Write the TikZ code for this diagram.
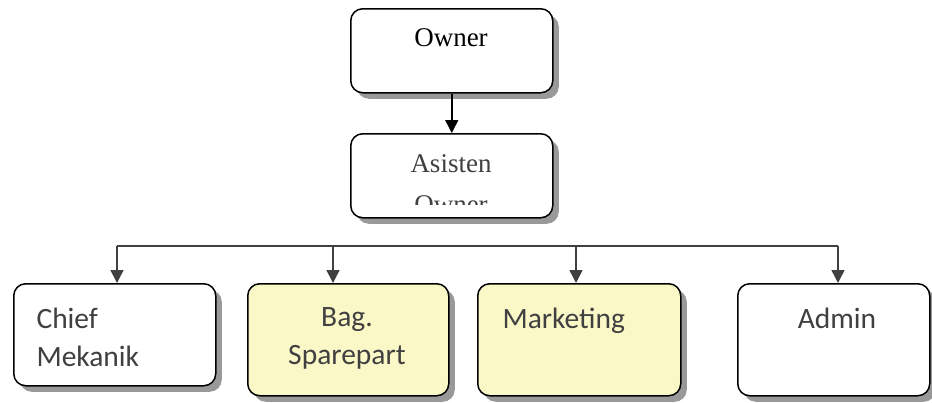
\documentclass[tikz,border=0pt]{standalone}
\usepackage{fontspec}
\setmainfont{Liberation Serif}
\newfontfamily\calfont{Carlito}
\usetikzlibrary{shadows,arrows.meta}
\definecolor{txtgrey}{HTML}{404040}
\definecolor{lineg}{HTML}{404040}
\definecolor{paleyel}{HTML}{FBF8C8}
\tikzset{
  orgbox/.style={draw=black, line width=1.5pt, rounded corners=12pt, fill=white,
    minimum width=#1, inner sep=0pt, anchor=north west,
    drop shadow={shadow xshift=6pt, shadow yshift=-6pt, fill=gray!80, opacity=1}},
  orgbox/.default=202pt,
  conn/.style={draw=lineg, line width=1.5pt, -{Triangle[length=13pt,width=13pt]}},
  lowtxt/.style={font=\calfont\fontsize{29.5}{38}\selectfont, text=txtgrey},
}
\begin{document}
\begin{tikzpicture}[x=1pt,y=-1pt]
\useasboundingbox (0,0) rectangle (932,402);
% top boxes
\node[orgbox, minimum height=84pt] (owner) at (350,8) {};
\node[font=\fontsize{27}{30}\selectfont] (ownertxt) at (451,38) {Owner};
\node[orgbox, minimum height=84pt] (asisten) at (350,133) {};
\begin{scope}
  \clip (352,135) rectangle (551,204);
  \node[font=\fontsize{27}{41}\selectfont, text=txtgrey, align=center, anchor=north, inner sep=0pt] (asistentxt) at (451,154) {Asisten\\Owner};
\end{scope}
\draw[draw=black, line width=1.5pt, -{Triangle[length=13pt,width=13pt]}] (owner.south) -- (asisten.north);
% bottom boxes
\node[orgbox, minimum width=202pt, minimum height=102pt] (chief) at (13,283) {};
\node[orgbox, minimum width=201pt, minimum height=112pt, fill=paleyel] (bag) at (247,283) {};
\node[orgbox, minimum width=203pt, minimum height=112pt, fill=paleyel] (mark) at (477,283) {};
\node[orgbox, minimum width=192pt, minimum height=112pt] (admin) at (737,283) {};
\node[lowtxt, align=left, anchor=north west] (chieftxt) at (33,304) {Chief\\Mekanik};
\node[lowtxt, align=center, anchor=north] (bagtxt) at (347,304) {Bag.\\Sparepart};
\node[lowtxt, anchor=north west] (marktxt) at (499,304) {Marketing};
\node[lowtxt, anchor=north] (admintxt) at (837,304) {Admin};
% bus
\coordinate (busL) at (117,246);
\coordinate (busR) at (838,246);
\draw[draw=lineg, line width=1.5pt] (busL) -- (busR);
\draw[conn] (busL) -- (busL |- chief.north);
\draw[conn] (333,246) -- (333,283);
\draw[conn] (576,246) -- (576,283);
\draw[conn] (busR) -- (busR |- admin.north);
\end{tikzpicture}
\end{document}
